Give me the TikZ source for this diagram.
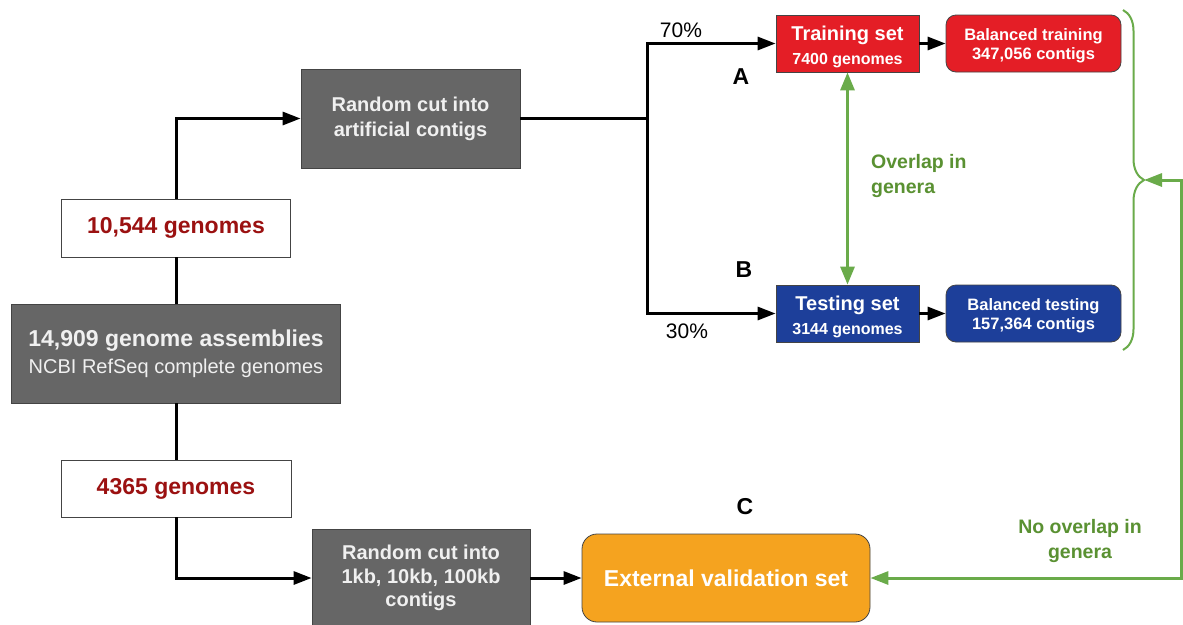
\documentclass[tikz,border=0pt]{standalone}
\usepackage{fontspec}
\setmainfont{Liberation Sans}
\usetikzlibrary{arrows.meta,decorations.pathreplacing}
\definecolor{boxgray}{HTML}{666666}
\definecolor{boxedge}{HTML}{444444}
\definecolor{darkred}{HTML}{9B1111}
\definecolor{trainred}{HTML}{E41E26}
\definecolor{testblue}{HTML}{1D3F9A}
\definecolor{extorange}{HTML}{F5A31F}
\definecolor{lgreen}{HTML}{6AAB4A}
\definecolor{tgreen}{HTML}{5A9132}
\definecolor{offwhite}{HTML}{F0F0F0}
\tikzset{
  graybox/.style={draw=boxedge, line width=0.8pt, fill=boxgray, text=offwhite, align=center, inner sep=0pt},
  whitebox/.style={draw=boxedge, line width=0.8pt, fill=white, text=darkred, align=center, inner sep=0pt,
    font=\fontsize{23}{26}\selectfont\bfseries},
  redbox/.style={draw=boxedge, line width=0.8pt, fill=trainred, text=white, align=center, inner sep=0pt},
  bluebox/.style={draw=boxedge, line width=0.8pt, fill=testblue, text=white, align=center, inner sep=0pt},
  blackline/.style={line width=3pt, draw=black},
  blackarrow/.style={blackline, -{Triangle[length=18pt,width=13pt]}},
  greenline/.style={line width=3pt, draw=lgreen},
  letterlabel/.style={font=\fontsize{23}{26}\selectfont\bfseries, inner sep=0pt},
  pctlabel/.style={font=\fontsize{21}{24}\selectfont, inner sep=0pt},
  greenlabel/.style={text=tgreen, font=\fontsize{19.5}{24.5}\selectfont\bfseries, inner sep=0pt},
}
\begin{document}
\begin{tikzpicture}[x=1pt,y=-1pt]
\useasboundingbox (0,0) rectangle (1183,624);
\fill[white] (0,0) rectangle (1183,624);

% nodes
\node[graybox, minimum width=219, minimum height=99,
  font=\fontsize{20}{25}\selectfont\bfseries] (cut1) at (410.5,118.5) {Random cut into\\artificial contigs};
\node[whitebox, minimum width=229, minimum height=58] (g10544) at (176,228) {10,544 genomes};
\node[graybox, minimum width=329, minimum height=99] (asm) at (176,353.5)
  {{\fontsize{23}{26}\selectfont\bfseries 14,909 genome assemblies}\\[7pt]
   {\fontsize{20}{22}\selectfont NCBI RefSeq complete genomes}};
\node[whitebox, minimum width=230, minimum height=57] (g4365) at (176,488.5) {4365 genomes};
\node[graybox, minimum width=218, minimum height=98,
  font=\fontsize{20}{23.5}\selectfont\bfseries] (cut2) at (421,578) {Random cut into\\1kb, 10kb, 100kb\\contigs};
\node[draw=boxedge, line width=0.8pt, fill=extorange, text=white, rounded corners=15pt,
  minimum width=288, minimum height=88, inner sep=0pt,
  font=\fontsize{23}{26}\selectfont\bfseries] (ext) at (726,578) {External validation set};
\node[redbox, minimum width=143, minimum height=57] (train) at (847.5,43.5)
  {{\fontsize{20}{22}\selectfont\bfseries\rule{0pt}{21pt}Training set}\\[8pt]{\fontsize{16}{18}\selectfont\bfseries 7400 genomes}};
\node[redbox, rounded corners=10pt, minimum width=175, minimum height=57,
  font=\fontsize{16.5}{19}\selectfont\bfseries] (btrain) at (1033.5,43.5) {\rule{0pt}{17pt}Balanced training\\347,056 contigs};
\node[bluebox, minimum width=143, minimum height=57] (test) at (847.5,313.5)
  {{\fontsize{20}{22}\selectfont\bfseries\rule{0pt}{21pt}Testing set}\\[8pt]{\fontsize{16}{18}\selectfont\bfseries 3144 genomes}};
\node[bluebox, rounded corners=10pt, minimum width=175, minimum height=57,
  font=\fontsize{16.5}{19}\selectfont\bfseries] (btest) at (1033.5,313.5) {\rule{0pt}{17pt}Balanced testing\\157,364 contigs};

% labels
\node[pctlabel] (p70) at (681,30) {70\%};
\node[pctlabel] (p30) at (687,331) {30\%};
\node[letterlabel] (lA) at (741,77) {A};
\node[letterlabel] (lB) at (744,270) {B};
\node[letterlabel] (lC) at (745,507) {C};
\node[greenlabel, anchor=west, align=left] (ov) at (871,176) {Overlap in\\genera};
\node[greenlabel, align=center] (nov) at (1080,541) {No overlap in\\genera};

% coordinates
\coordinate (split) at (647,118.5);
\coordinate (bt) at (1123,10);
\coordinate (bb) at (1123,350);
\coordinate (btip) at (1144,180);
\coordinate (gr1) at (1181,180);
\coordinate (gr2) at (1181,578);

% black connectors
\draw[blackarrow] (g10544.north) |- (cut1.west);
\draw[blackline] (asm.north) -- (g10544.south);
\draw[blackline] (asm.south) -- (g4365.north);
\draw[blackarrow] (g4365.south) |- (cut2.west);
\draw[blackarrow] (cut2.east) -- (ext.west);
\draw[blackline] (cut1.east) -- (split);
\draw[blackarrow] (split) |- (train.west);
\draw[blackarrow] (split) |- (test.west);
\draw[blackarrow] (train.east) -- (btrain.west);
\draw[blackarrow] (test.east) -- (btest.west);

% green
\draw[greenline, {Triangle[length=18pt,width=14pt]}-{Triangle[length=18pt,width=14pt]}] (train.south) -- (test.north);
\draw[lgreen, line width=2pt, decorate, decoration={brace, amplitude=21pt}] (bt) -- (bb);
\draw[greenline, {Triangle[length=18pt,width=13pt]}-{Triangle[length=18pt,width=13pt]}, line join=miter]
  (ext.east) -- (gr2) -- (gr1) -- (btip);
\end{tikzpicture}
\end{document}
